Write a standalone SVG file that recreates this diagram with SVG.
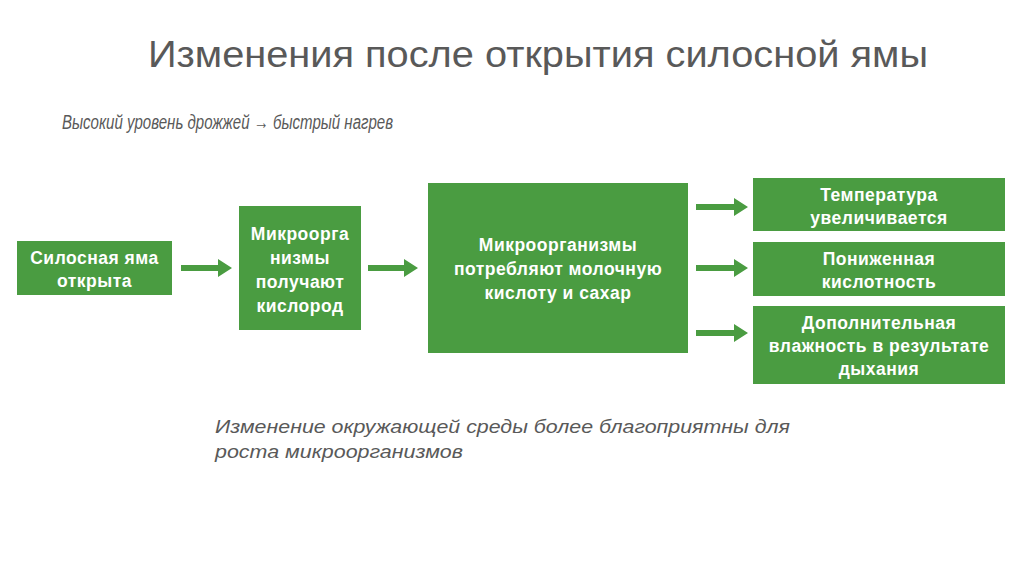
<svg xmlns="http://www.w3.org/2000/svg" width="1024" height="574" viewBox="0 0 1024 574">
<defs>
<style>
.box{fill:#4a9c41}
.bt{font-family:"Liberation Sans",Arial,sans-serif;font-weight:bold;font-size:17.5px;letter-spacing:0.5px;fill:#ffffff;text-anchor:middle}
.gray{font-family:"Liberation Sans",Arial,sans-serif;fill:#595959}
.arr{fill:#4a9c41}
</style>
</defs>
<rect width="1024" height="574" fill="#ffffff"/>
<text class="gray" x="148" y="67" font-size="36" textLength="780" lengthAdjust="spacingAndGlyphs">Изменения после открытия силосной ямы</text>
<text class="gray" x="62" y="129" font-size="20" font-style="italic" textLength="331" lengthAdjust="spacingAndGlyphs">Высокий уровень дрожжей → быстрый нагрев</text>
<text class="gray" x="215" y="433" font-size="19" font-style="italic" textLength="575" lengthAdjust="spacingAndGlyphs">Изменение окружающей среды более благоприятны для</text>
<text class="gray" x="215" y="458" font-size="19" font-style="italic" textLength="248" lengthAdjust="spacingAndGlyphs">роста микроорганизмов</text>
<g id="connectors" class="arr">
<path d="M181,265 L218,265 L218,259 L232,268 L218,277 L218,271 L181,271 Z"/>
<path d="M368,265 L404,265 L404,259 L418,268 L404,277 L404,271 L368,271 Z"/>
<path d="M696,204 L734,204 L734,198 L748,207 L734,216 L734,210 L696,210 Z"/>
<path d="M696,265 L734,265 L734,259 L748,268 L734,277 L734,271 L696,271 Z"/>
<path d="M696,330 L734,330 L734,324 L748,333 L734,342 L734,336 L696,336 Z"/>
</g>
<g id="n1"><rect class="box" x="17" y="241" width="155" height="54"/>
<text class="bt" x="94.5" y="264">Силосная яма</text><text class="bt" x="94.5" y="287">открыта</text></g>
<g id="n2"><rect class="box" x="239" y="206" width="122" height="124"/>
<text class="bt" x="300" y="240">Микроорга</text><text class="bt" x="300" y="264">низмы</text><text class="bt" x="300" y="288">получают</text><text class="bt" x="300" y="312">кислород</text></g>
<g id="n3"><rect class="box" x="428" y="183" width="260" height="170"/>
<text class="bt" x="558" y="251">Микроорганизмы</text><text class="bt" x="558" y="275">потребляют молочную</text><text class="bt" x="558" y="299">кислоту и сахар</text></g>
<g id="n4"><rect class="box" x="753" y="178" width="252" height="53"/>
<text class="bt" x="879" y="201">Температура</text><text class="bt" x="879" y="224">увеличивается</text></g>
<g id="n5"><rect class="box" x="753" y="242" width="252" height="54"/>
<text class="bt" x="879" y="265">Пониженная</text><text class="bt" x="879" y="288">кислотность</text></g>
<g id="n6"><rect class="box" x="753" y="306" width="252" height="78"/>
<text class="bt" x="879" y="329">Дополнительная</text><text class="bt" x="879" y="352">влажность в результате</text><text class="bt" x="879" y="375">дыхания</text></g>
</svg>
